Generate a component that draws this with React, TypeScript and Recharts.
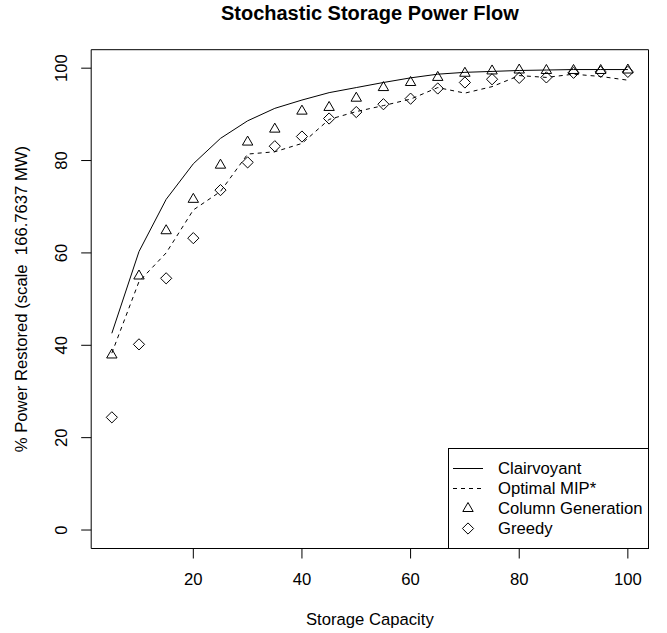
import React from 'react'
import { ComposedChart, Line, Scatter, XAxis, YAxis, ReferenceArea } from 'recharts'

// Stochastic storage power flow: % power restored vs storage capacity,
// four methods. Styled after an R base-graphics plot (box, outside ticks,
// rotated y tick labels, legend in the bottom-right corner).

const capacity = [5, 10, 15, 20, 25, 30, 35, 40, 45, 50, 55, 60, 65, 70, 75, 80, 85, 90, 95, 100]
const clairvoyant = [42.6, 60.3, 71.6, 79.3, 84.8, 88.6, 91.3, 93.1, 94.7, 95.8, 96.9, 97.9, 98.7, 99.1, 99.3, 99.5, 99.6, 99.7, 99.7, 99.7]
const optimalMip = [38.3, 53.8, 60.0, 69.3, 73.3, 81.4, 81.9, 83.7, 88.9, 90.6, 91.9, 93.3, 95.8, 94.6, 96.0, 98.4, 98.0, 98.7, 98.2, 97.4]
const columnGen = [37.9, 55.0, 64.8, 71.6, 79.0, 84.0, 86.8, 90.7, 91.5, 93.5, 95.8, 96.9, 98.0, 98.9, 99.4, 99.6, 99.5, 99.5, 99.5, 99.6]
const greedy = [24.4, 40.2, 54.5, 63.2, 73.6, 79.6, 83.1, 85.2, 89.1, 90.5, 92.2, 93.4, 95.6, 96.9, 97.6, 97.9, 98.0, 99.0, 99.2, 99.2]

const xTicks = [20, 40, 60, 80, 100]
const yTicks = [0, 20, 40, 60, 80, 100]
const legendLabels = ['Clairvoyant', 'Optimal MIP*', 'Column Generation', 'Greedy']

const W = 667
const H = 633
const FONT = '"Liberation Sans", Arial, Helvetica, sans-serif'
const FS = 16.67

// plot region (px)
const PL = 91.2
const PR = 648.5
const PT = 49.7
const PB = 548.5
const Y_AXIS_W = 60
const X_AXIS_H = 50

const data = capacity.map((x, i) => ({
  x,
  clair: clairvoyant[i],
  mip: optimalMip[i],
  colgen: columnGen[i],
  greedy: greedy[i],
}))

function Triangle({ cx, cy }: { cx?: number; cy?: number }) {
  if (cx == null || cy == null) return null
  return (
    <polygon
      points={`${cx},${cy - 6} ${cx + 5.2},${cy + 3} ${cx - 5.2},${cy + 3}`}
      fill="none"
      stroke="#000"
      strokeWidth={1}
    />
  )
}

function Diamond({ cx, cy }: { cx?: number; cy?: number }) {
  if (cx == null || cy == null) return null
  const r = 5.6
  return (
    <polygon
      points={`${cx},${cy - r} ${cx + r},${cy} ${cx},${cy + r} ${cx - r},${cy}`}
      fill="none"
      stroke="#000"
      strokeWidth={1}
    />
  )
}

function XTick(props: any) {
  const { x, y, payload } = props
  return (
    <text x={x} y={y + 26} textAnchor="middle" fontFamily={FONT} fontSize={FS} fill="#000">
      {payload.value}
    </text>
  )
}

function YTick(props: any) {
  const { x, y, payload } = props
  const bx = x - 14
  return (
    <text
      x={bx}
      y={y}
      textAnchor="middle"
      transform={`rotate(-90, ${bx}, ${y})`}
      fontFamily={FONT}
      fontSize={FS}
      fill="#000"
    >
      {payload.value}
    </text>
  )
}

function Overlay() {
  const cx = (PL + PR) / 2
  const cy = (PT + PB) / 2
  const lgL = 448.5
  const lgT = 448.5
  const rows = legendLabels.map((_, i) => lgT + 20 + i * 20)
  return (
    <svg width={W} height={H} style={{ position: 'absolute', left: 0, top: 0, pointerEvents: 'none' }}>
      <text x={cx} y={19.5} textAnchor="middle" fontFamily={FONT} fontSize={20} fontWeight="bold" fill="#000">
        Stochastic Storage Power Flow
      </text>
      <text x={cx} y={624.5} textAnchor="middle" fontFamily={FONT} fontSize={FS} fill="#000">
        Storage Capacity
      </text>
      <text
        x={27.2}
        y={cy}
        textAnchor="middle"
        transform={`rotate(-90, 27.2, ${cy})`}
        fontFamily={FONT}
        fontSize={FS}
        fill="#000"
        style={{ whiteSpace: 'pre' }}
      >
        {'% Power Restored (scale  166.7637 MW)'}
      </text>

      {/* legend */}
      <rect x={lgL} y={lgT} width={PR - lgL} height={PB - lgT} fill="#fff" stroke="#000" strokeWidth={1} />
      <line x1={lgL + 4.5} x2={lgL + 34.5} y1={rows[0]} y2={rows[0]} stroke="#000" strokeWidth={1} />
      <line x1={lgL + 4.5} x2={lgL + 34.5} y1={rows[1]} y2={rows[1]} stroke="#000" strokeWidth={1} strokeDasharray="4 4" />
      <Triangle cx={lgL + 19.5} cy={rows[2]} />
      <Diamond cx={lgL + 19.5} cy={rows[3]} />
      {legendLabels.map((t, i) => (
        <text key={t} x={lgL + 49.5} y={rows[i]} dominantBaseline="central" fontFamily={FONT} fontSize={FS} fill="#000">
          {t}
        </text>
      ))}
    </svg>
  )
}

export default function App() {
  return (
    <div style={{ position: 'absolute', left: 0, top: 0, width: W, height: H, background: '#fff' }}>
      <ComposedChart
        width={W}
        height={H}
        data={data}
        margin={{ top: PT, right: W - PR, bottom: H - PB - X_AXIS_H, left: PL - Y_AXIS_W }}
      >
        <XAxis
          type="number"
          dataKey="x"
          domain={[1.2, 103.8]}
          ticks={xTicks}
          height={X_AXIS_H}
          axisLine={false}
          tickLine={{ stroke: '#000' }}
          tickSize={10}
          tickMargin={0}
          tick={<XTick />}
          interval={0}
        />
        <YAxis
          type="number"
          domain={[-4, 104]}
          ticks={yTicks}
          width={Y_AXIS_W}
          axisLine={false}
          tickLine={{ stroke: '#000' }}
          tickSize={10}
          tickMargin={0}
          tick={<YTick />}
          interval={0}
        />
        <ReferenceArea x1={1.2} x2={103.8} y1={-4} y2={104} fill="none" stroke="#000" strokeWidth={1} />
        <Line dataKey="clair" type="linear" stroke="#000" strokeWidth={1} dot={false} activeDot={false} isAnimationActive={false} />
        <Line dataKey="mip" type="linear" stroke="#000" strokeWidth={1} strokeDasharray="4 4" dot={false} activeDot={false} isAnimationActive={false} />
        <Scatter dataKey="colgen" shape={<Triangle />} isAnimationActive={false} />
        <Scatter dataKey="greedy" shape={<Diamond />} isAnimationActive={false} />
      </ComposedChart>
      <Overlay />
    </div>
  )
}
